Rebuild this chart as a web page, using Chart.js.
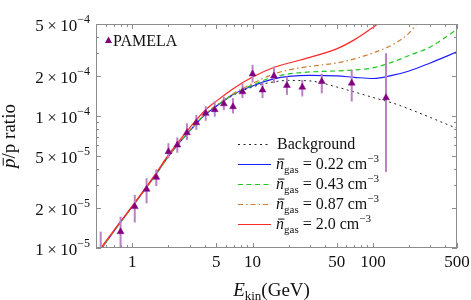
<!DOCTYPE html>
<html>
<head>
<meta charset="utf-8">
<script src="https://cdn.jsdelivr.net/npm/chart.js@4.4.1/dist/chart.umd.min.js"></script>
<style>
  body { margin: 0; background: #fff; }
  canvas { display: block; }
</style>
</head>
<body>
<canvas id="ratioChart" width="471" height="300"></canvas>
<script>
    // Model curves, sampled on a common energy grid (GeV)
    const energies = [0.5, 0.7, 1, 1.5, 2, 3, 4, 5, 7, 10, 15, 20, 30, 50, 70, 100, 150, 200, 300, 500];
    const background = [8.7e-6, 1.33e-5, 2.06e-5, 3.40e-5, 4.95e-5, 7.72e-5, 1.02e-4, 1.19e-4, 1.45e-4, 1.665e-4, 1.82e-4, 1.866e-4, 1.85e-4, 1.665e-4, 1.526e-4, 1.387e-4, 1.248e-4, 1.134e-4, 9.77e-5, 8.07e-5];
    const gas022 = [8.7e-6, 1.33e-5, 2.06e-5, 3.40e-5, 4.95e-5, 7.72e-5, 1.02e-4, 1.19e-4, 1.47e-4, 1.695e-4, 1.915e-4, 2.0e-4, 2.036e-4, 2.018e-4, 1.97e-4, 1.93e-4, 2.054e-4, 2.202e-4, 2.533e-4, 3.07e-4];
    const gas043 = [8.7e-6, 1.33e-5, 2.06e-5, 3.40e-5, 4.95e-5, 7.75e-5, 1.025e-4, 1.2e-4, 1.47e-4, 1.725e-4, 1.984e-4, 2.091e-4, 2.164e-4, 2.202e-4, 2.241e-4, 2.321e-4, 2.6e-4, 2.887e-4, 3.35e-4, 4.55e-4];
    const gas087 = [8.7e-6, 1.33e-5, 2.06e-5, 3.40e-5, 4.95e-5, 7.8e-5, 1.03e-4, 1.21e-4, 1.49e-4, 1.771e-4, 2.091e-4, 2.241e-4, 2.383e-4, 2.533e-4, 2.716e-4, 3.017e-4, 3.53e-4, 4.28e-4, 6.98e-4, null];
    const gas20 = [8.9e-6, 1.35e-5, 2.08e-5, 3.46e-5, 5.08e-5, 8.14e-5, 1.10e-4, 1.30e-4, 1.63e-4, 1.98e-4, 2.34e-4, 2.53e-4, 2.79e-4, 3.24e-4, 3.79e-4, 4.71e-4, 6.2e-4, null, null, null];

    // PAMELA data points with error bar ends
    const pamelaE = [0.547, 0.80, 1.05, 1.316, 1.585, 2.0, 2.37, 2.85, 3.41, 4.08, 4.85, 5.77, 6.88, 8.25, 10.0, 12.1, 15.07, 19.3, 25.9, 37.6, 66.7, 128.5];
    const pamelaRatio = [9.0e-6, 1.33e-5, 2.06e-5, 2.79e-5, 3.44e-5, 5.38e-5, 6.04e-5, 7.5e-5, 8.93e-5, 1.05e-4, 1.12e-4, 1.24e-4, 1.18e-4, 1.53e-4, 2.09e-4, 1.58e-4, 2.02e-4, 1.71e-4, 1.66e-4, 1.83e-4, 1.78e-4, 1.38e-4];
    const pamelaLow = [6.0e-6, 0.97e-5, 1.56e-5, 2.18e-5, 2.95e-5, 4.79e-5, 5.28e-5, 6.6e-5, 7.87e-5, 9.23e-5, 9.9e-5, 1.11e-4, 1.05e-4, 1.37e-4, 1.80e-4, 1.37e-4, 1.78e-4, 1.45e-4, 1.41e-4, 1.49e-4, 1.29e-4, 3.78e-5];
    const pamelaHigh = [1.33e-5, 1.73e-5, 2.53e-5, 3.38e-5, 3.95e-5, 6.23e-5, 6.9e-5, 8.83e-5, 1.02e-4, 1.19e-4, 1.29e-4, 1.40e-4, 1.37e-4, 1.77e-4, 2.45e-4, 1.80e-4, 2.38e-4, 2.0e-4, 1.88e-4, 2.1e-4, 2.25e-4, 3.0e-4];

    // Axis ticks
    const xMajorTicks = [1, 5, 10, 50, 100, 500];
    const xMinorTicks = [0.6, 0.7, 0.8, 0.9, 2, 3, 4, 6, 7, 8, 9, 20, 30, 40, 60, 70, 80, 90, 200, 300, 400];
    const yMajorTicks = [1e-5, 2e-5, 5e-5, 1e-4, 2e-4, 5e-4];
    const yMinorTicks = [3e-5, 4e-5, 6e-5, 7e-5, 8e-5, 9e-5, 3e-4, 4e-4];

    // Legend densities (cm^-3)
    const gasDensities = ['0.22', '0.43', '0.87', '2.0'];

    const SERIF = '"Liberation Serif", "DejaVu Serif", serif';
    const FRAME = '#8c8c8c';

    function toPoints(xs, ys) {
      return xs.map((x, i) => ({ x: x, y: ys[i] }));
    }

    function curve(label, ys, color, dash, width) {
      return {
        type: 'line',
        label: label,
        data: toPoints(energies, ys),
        borderColor: color,
        borderWidth: width || 1.2,
        borderDash: dash,
        pointRadius: 0,
        fill: false,
        cubicInterpolationMode: 'monotone',
        spanGaps: false
      };
    }

    // Draw a run of text pieces (sub/superscripts, italics, overline)
    function drawPieces(ctx, pieces, x, y, align) {
      let total = 0;
      pieces.forEach(p => {
        ctx.font = (p.italic ? 'italic ' : '') + p.size + 'px ' + SERIF;
        p.w = ctx.measureText(p.t).width;
        total += p.w;
      });
      let cx = align === 'right' ? x - total : align === 'center' ? x - total / 2 : x;
      pieces.forEach(p => {
        ctx.font = (p.italic ? 'italic ' : '') + p.size + 'px ' + SERIF;
        ctx.fillText(p.t, cx, y + (p.dy || 0));
        if (p.bar) {
          ctx.save();
          ctx.lineWidth = 1;
          ctx.strokeStyle = ctx.fillStyle;
          ctx.beginPath();
          const by = y + (p.dy || 0) - p.size * 0.62;
          ctx.moveTo(cx + p.w * 0.25, by);
          ctx.lineTo(cx + p.w * 1.05, by);
          ctx.stroke();
          ctx.restore();
        }
        cx += p.w;
      });
    }

    // Error bars under the PAMELA triangles
    const errorBars = {
      id: 'errorBars',
      beforeDatasetDraw(chart, args) {
        if (args.index !== 0) return;
        const { ctx, chartArea, scales } = chart;
        ctx.save();
        ctx.beginPath();
        ctx.rect(chartArea.left, chartArea.top, chartArea.right - chartArea.left, chartArea.bottom - chartArea.top);
        ctx.clip();
        ctx.strokeStyle = 'rgb(188,128,198)';
        ctx.lineWidth = 2;
        pamelaE.forEach((e, i) => {
          const px = scales.x.getPixelForValue(e);
          ctx.beginPath();
          ctx.moveTo(px, scales.y.getPixelForValue(pamelaHigh[i]));
          ctx.lineTo(px, scales.y.getPixelForValue(pamelaLow[i]));
          ctx.stroke();
        });
        ctx.restore();
      }
    };

    // Frame, inward ticks, labels, titles and legends
    const decorations = {
      id: 'decorations',
      afterDraw(chart) {
        const { ctx, chartArea: a, scales } = chart;
        const xs = scales.x, ys = scales.y;
        ctx.save();
        ctx.strokeStyle = FRAME;
        ctx.lineWidth = 1;
        ctx.strokeRect(a.left + 0.5, a.top + 0.5, a.right - a.left - 1, a.bottom - a.top - 1);

        ctx.beginPath();
        const xt = (v, len) => {
          const px = Math.round(xs.getPixelForValue(v)) + 0.5;
          ctx.moveTo(px, a.bottom); ctx.lineTo(px, a.bottom - len);
          ctx.moveTo(px, a.top); ctx.lineTo(px, a.top + len);
        };
        const yt = (v, len) => {
          const py = Math.round(ys.getPixelForValue(v)) + 0.5;
          ctx.moveTo(a.left, py); ctx.lineTo(a.left + len, py);
          ctx.moveTo(a.right, py); ctx.lineTo(a.right - len, py);
        };
        xMajorTicks.forEach(v => xt(v, 5));
        xMinorTicks.forEach(v => xt(v, 3));
        yMajorTicks.forEach(v => yt(v, 5));
        yMinorTicks.forEach(v => yt(v, 3));
        ctx.stroke();

        ctx.fillStyle = '#111';
        ctx.textBaseline = 'alphabetic';

        // x tick labels
        ctx.textAlign = 'left';
        xMajorTicks.forEach(v => {
          drawPieces(ctx, [{ t: String(v), size: 17 }], xs.getPixelForValue(v), a.bottom + 19, 'center');
        });

        // y tick labels: m × 10^e
        yMajorTicks.forEach(v => {
          const e = Math.floor(Math.log10(v) + 1e-9);
          const m = Math.round(v / Math.pow(10, e));
          const py = ys.getPixelForValue(v);
          drawPieces(ctx, [
            { t: m + '\u2009\u00d7\u200910', size: 17 },
            { t: '\u2212' + Math.abs(e), size: 12, dy: -8 }
          ], a.left - 6, py + 7, 'right');
        });

        // x title
        drawPieces(ctx, [
          { t: 'E', size: 19, italic: true },
          { t: 'kin', size: 13, dy: 4 },
          { t: '(GeV)', size: 19 }
        ], (a.left + a.right) / 2 - 5, 296, 'center');

        // y title, rotated
        ctx.save();
        ctx.translate(15, (a.top + a.bottom) / 2);
        ctx.rotate(-Math.PI / 2);
        drawPieces(ctx, [
          { t: 'p', size: 19, italic: true, bar: true },
          { t: '/p ratio', size: 19 }
        ], 0, 0, 'center');
        ctx.restore();

        // PAMELA legend
        const tri = chart.getDatasetMeta(0);
        ctx.fillStyle = 'rgb(128,0,128)';
        ctx.beginPath();
        ctx.moveTo(108.5, 36.5);
        ctx.lineTo(112, 43);
        ctx.lineTo(105, 43);
        ctx.closePath();
        ctx.fill();
        ctx.fillStyle = '#111';
        drawPieces(ctx, [{ t: 'PAMELA', size: 16 }], 113, 45.5, 'left');

        // curve legend
        const rows = [
          { y: 144, color: '#222', dash: [2, 3.5], label: null },
          { y: 164, color: 'rgb(30,30,255)', dash: [], label: gasDensities[0] },
          { y: 184, color: 'rgb(30,200,30)', dash: [5, 3.5], label: gasDensities[1] },
          { y: 204, color: 'rgb(205,125,50)', dash: [5, 3, 1.5, 3], label: gasDensities[2] },
          { y: 224, color: 'rgb(255,40,40)', dash: [], label: gasDensities[3] }
        ];
        rows.forEach(r => {
          ctx.save();
          ctx.strokeStyle = r.color;
          ctx.lineWidth = 1.2;
          ctx.setLineDash(r.dash);
          ctx.beginPath();
          ctx.moveTo(238, r.y + 0.5);
          ctx.lineTo(271, r.y + 0.5);
          ctx.stroke();
          ctx.restore();
          ctx.fillStyle = '#111';
          if (r.label === null) {
            drawPieces(ctx, [{ t: 'Background', size: 16 }], 277, r.y + 5, 'left');
          } else {
            drawPieces(ctx, [
              { t: 'n', size: 16, italic: true, bar: true },
              { t: 'gas', size: 11, dy: 4 },
              { t: ' = ' + r.label + ' cm', size: 16 },
              { t: '\u22123', size: 11, dy: -7 }
            ], 276, r.y + 5, 'left');
          }
        });
        ctx.restore();
      }
    };

    const ctx = document.getElementById('ratioChart').getContext('2d');
    new Chart(ctx, {
      type: 'line',
      data: {
        datasets: [
          {
            type: 'scatter',
            label: 'PAMELA',
            data: toPoints(pamelaE, pamelaRatio),
            pointStyle: 'triangle',
            pointRadius: 4,
            backgroundColor: 'rgb(128,0,128)',
            borderColor: 'rgb(128,0,128)',
            borderWidth: 0.5
          },
          curve('n = 2.0', gas20, 'rgb(255,40,40)', [], 1.2),
          curve('n = 0.87', gas087, 'rgb(205,125,50)', [5, 3, 1.5, 3], 1.2),
          curve('n = 0.43', gas043, 'rgb(30,200,30)', [5, 3.5], 1.2),
          curve('n = 0.22', gas022, 'rgb(30,30,255)', [], 1.2),
          curve('Background', background, '#222', [2, 3.5], 1)
        ]
      },
      options: {
        responsive: false,
        animation: false,
        layout: { padding: { top: 24, right: 14, left: 0, bottom: 0 } },
        plugins: {
          legend: { display: false },
          tooltip: { enabled: false }
        },
        scales: {
          x: {
            type: 'logarithmic',
            min: 0.5,
            max: 500,
            ticks: { display: false },
            grid: { display: false },
            border: { display: false },
            afterFit(scale) { scale.height = 52; }
          },
          y: {
            type: 'logarithmic',
            min: 1e-5,
            max: 5e-4,
            ticks: { display: false },
            grid: { display: false },
            border: { display: false },
            afterFit(scale) { scale.width = 96; }
          }
        }
      },
      plugins: [errorBars, decorations]
    });
</script>
</body>
</html>
